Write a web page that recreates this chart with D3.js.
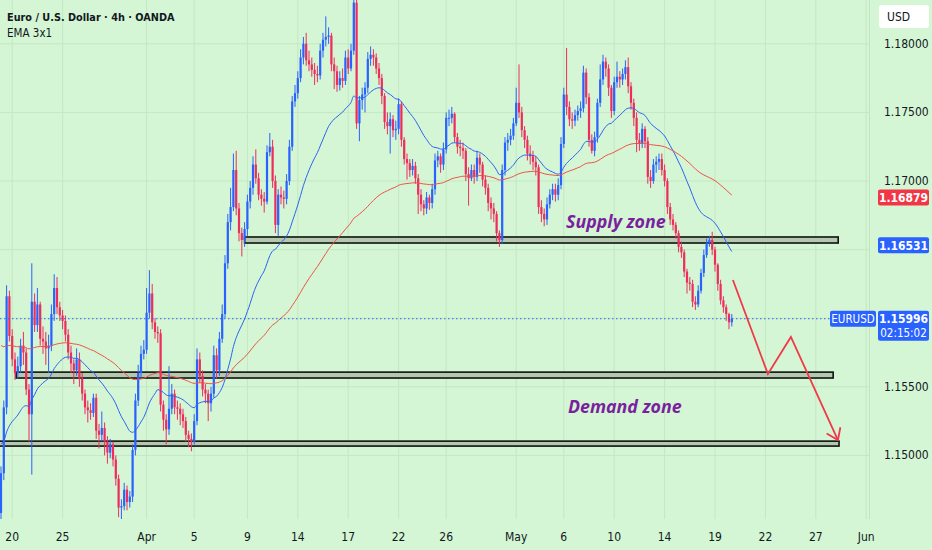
<!DOCTYPE html>
<html><head><meta charset="utf-8">
<script src="https://cdn.jsdelivr.net/npm/d3@7"></script>
<style>
html,body{margin:0;padding:0;background:#d4f6d4;}
svg{display:block;}
text{font-family:"Liberation Sans Narrow","DejaVu Sans Condensed","Liberation Sans",sans-serif;}
</style></head><body>
<svg id="chart" width="932" height="550"></svg>
<script>
// ---------------- DATA ----------------
const firstOpen = 1.1458;
const closes = [
1.1487,1.1535,1.1616,1.1587,1.1570,1.1560,1.1565,1.1580,1.1575,1.1548,
1.1530,1.1612,1.1595,1.1610,1.1585,1.1583,1.1578,1.1580,1.1603,1.1622,
1.1608,1.1602,1.1598,1.1588,1.1575,1.1567,1.1562,1.1570,1.1556,1.1545,
1.1535,1.1533,1.1531,1.1542,1.1518,1.1515,1.1520,1.1510,1.1502,1.1508,
1.1497,1.1483,1.1462,1.1463,1.1475,1.1466,1.1470,1.1504,1.1540,1.1560,
1.1574,1.1577,1.1604,1.1618,1.1597,1.1590,1.1589,1.1537,1.1526,1.1519,
1.1534,1.1545,1.1535,1.1534,1.1530,1.1525,1.1515,1.1512,1.1510,1.1525,
1.1570,1.1558,1.1548,1.1545,1.1538,1.1545,1.1573,1.1562,1.1585,1.1603,
1.1640,1.1670,1.1681,1.1708,1.1680,1.1662,1.1657,1.1665,1.1685,1.1695,
1.1712,1.1702,1.1690,1.1687,1.1685,1.1721,1.1725,1.1700,1.1668,1.1690,
1.1688,1.1687,1.1700,1.1725,1.1758,1.1764,1.1775,1.1790,1.1800,1.1788,
1.1785,1.1781,1.1778,1.1777,1.1795,1.1803,1.1805,1.1806,1.1785,1.1780,
1.1770,1.1775,1.1773,1.1790,1.1782,1.1795,1.1830,1.1742,1.1759,1.1763,
1.1768,1.1789,1.1792,1.1790,1.1782,1.1775,1.1762,1.1743,1.1740,1.1745,
1.1737,1.1738,1.1756,1.1730,1.1716,1.1713,1.1708,1.1711,1.1702,1.1690,
1.1683,1.1680,1.1688,1.1684,1.1694,1.1715,1.1718,1.1712,1.1723,1.1746,
1.1746,1.1749,1.1732,1.1725,1.1724,1.1722,1.1705,1.1702,1.1708,1.1703,
1.1717,1.1712,1.1701,1.1695,1.1684,1.1680,1.1676,1.1662,1.1657,1.1708,
1.1728,1.1730,1.1733,1.1742,1.1757,1.1750,1.1737,1.1730,1.1720,1.1718,
1.1714,1.1710,1.1681,1.1676,1.1672,1.1683,1.1690,1.1694,1.1690,1.1697,
1.1727,1.1763,1.1754,1.1745,1.1744,1.1748,1.1751,1.1753,1.1779,1.1761,
1.1730,1.1722,1.1732,1.1757,1.1774,1.1787,1.1782,1.1768,1.1751,1.1772,
1.1776,1.1774,1.1778,1.1783,1.1769,1.1757,1.1746,1.1730,1.1727,1.1738,
1.1729,1.1703,1.1700,1.1712,1.1714,1.1716,1.1708,1.1700,1.1681,1.1672,
1.1668,1.1662,1.1652,1.1648,1.1634,1.1626,1.1625,1.1612,1.1610,1.1620,
1.1633,1.1646,1.1655,1.1657,1.1650,1.1639,1.1625,1.1613,1.1608,1.1603,
1.1597,1.15996];
const highs = [
1.1492,1.1540,1.1624,1.1620,1.1592,1.1575,1.1572,1.1585,1.1590,1.1578,
1.1552,1.1640,1.1618,1.1622,1.1612,1.1594,1.1590,1.1588,1.1610,1.1632,
1.1630,1.1612,1.1606,1.1602,1.1592,1.1580,1.1570,1.1578,1.1575,1.1560,
1.1548,1.1540,1.1538,1.1545,1.1545,1.1523,1.1532,1.1524,1.1514,1.1512,
1.1510,1.1500,1.1486,1.1468,1.1480,1.1478,1.1474,1.1508,1.1545,1.1566,
1.1580,1.1584,1.1622,1.1635,1.1625,1.1600,1.1594,1.1592,1.1540,1.1530,
1.1565,1.1552,1.1548,1.1540,1.1538,1.1534,1.1528,1.1518,1.1516,1.1530,
1.1578,1.1575,1.1562,1.1552,1.1548,1.1550,1.1580,1.1578,1.1590,1.1610,
1.1646,1.1676,1.1695,1.1720,1.1722,1.1684,1.1666,1.1670,1.1690,1.1700,
1.1718,1.1723,1.1706,1.1694,1.1692,1.1726,1.1735,1.1730,1.1704,1.1694,
1.1696,1.1693,1.1705,1.1730,1.1762,1.1770,1.1780,1.1796,1.1805,1.1808,
1.1795,1.1790,1.1786,1.1784,1.1800,1.1808,1.1820,1.1812,1.1808,1.1790,
1.1784,1.1780,1.1782,1.1795,1.1796,1.1800,1.1840,1.1832,1.1762,1.1768,
1.1772,1.1794,1.1798,1.1796,1.1793,1.1786,1.1778,1.1764,1.1750,1.1750,
1.1748,1.1744,1.1760,1.1758,1.1732,1.1720,1.1716,1.1716,1.1714,1.1705,
1.1694,1.1686,1.1692,1.1690,1.1698,1.1720,1.1722,1.1720,1.1728,1.1750,
1.1752,1.1754,1.1750,1.1735,1.1730,1.1728,1.1724,1.1710,1.1712,1.1712,
1.1722,1.1720,1.1714,1.1704,1.1698,1.1688,1.1684,1.1678,1.1664,1.1712,
1.1732,1.1735,1.1738,1.1746,1.1768,1.1785,1.1754,1.1740,1.1733,1.1726,
1.1722,1.1718,1.1712,1.1686,1.1680,1.1688,1.1694,1.1698,1.1698,1.1702,
1.1732,1.1768,1.1797,1.1758,1.1750,1.1752,1.1755,1.1758,1.1784,1.1782,
1.1764,1.1734,1.1736,1.1760,1.1785,1.1792,1.1790,1.1785,1.1770,1.1776,
1.1787,1.1780,1.1782,1.1788,1.1790,1.1772,1.1760,1.1750,1.1735,1.1742,
1.1740,1.1732,1.1708,1.1716,1.1718,1.1720,1.1720,1.1712,1.1702,1.1684,
1.1676,1.1670,1.1664,1.1656,1.1650,1.1636,1.1630,1.1628,1.1616,1.1624,
1.1636,1.1650,1.1658,1.1660,1.1663,1.1652,1.1640,1.1628,1.1616,1.1610,
1.1604,1.1603];
const lows = [
1.1452,1.1482,1.1530,1.1583,1.1565,1.1555,1.1556,1.1560,1.1566,1.1544,
1.1510,1.1486,1.1590,1.1590,1.1580,1.1574,1.1566,1.1560,1.1576,1.1598,
1.1603,1.1598,1.1592,1.1583,1.1570,1.1560,1.1552,1.1558,1.1550,1.1540,
1.1530,1.1524,1.1526,1.1528,1.1512,1.1505,1.1510,1.1500,1.1494,1.1498,
1.1492,1.1478,1.1455,1.1453,1.1460,1.1460,1.1462,1.1466,1.1500,1.1536,
1.1556,1.1570,1.1574,1.1600,1.1592,1.1585,1.1582,1.1532,1.1518,1.1508,
1.1515,1.1530,1.1530,1.1526,1.1522,1.1520,1.1510,1.1506,1.1503,1.1508,
1.1522,1.1553,1.1543,1.1538,1.1525,1.1532,1.1542,1.1556,1.1558,1.1582,
1.1600,1.1636,1.1664,1.1678,1.1675,1.1656,1.1645,1.1652,1.1660,1.1680,
1.1690,1.1698,1.1686,1.1682,1.1677,1.1683,1.1718,1.1695,1.1662,1.1660,
1.1683,1.1680,1.1683,1.1697,1.1722,1.1754,1.1760,1.1772,1.1785,1.1784,
1.1780,1.1776,1.1770,1.1772,1.1774,1.1790,1.1798,1.1800,1.1780,1.1767,
1.1765,1.1766,1.1768,1.1770,1.1778,1.1780,1.1792,1.1738,1.1729,1.1752,
1.1750,1.1764,1.1784,1.1784,1.1778,1.1770,1.1756,1.1738,1.1734,1.1720,
1.1732,1.1730,1.1734,1.1725,1.1712,1.1701,1.1703,1.1704,1.1698,1.1676,
1.1678,1.1675,1.1676,1.1679,1.1680,1.1690,1.1710,1.1706,1.1708,1.1720,
1.1740,1.1742,1.1728,1.1720,1.1718,1.1716,1.1700,1.1682,1.1700,1.1698,
1.1700,1.1706,1.1696,1.1690,1.1678,1.1672,1.1670,1.1656,1.1652,1.1654,
1.1704,1.1722,1.1726,1.1730,1.1740,1.1746,1.1732,1.1724,1.1715,1.1712,
1.1708,1.1704,1.1676,1.1670,1.1667,1.1668,1.1680,1.1686,1.1685,1.1686,
1.1694,1.1724,1.1748,1.1740,1.1738,1.1740,1.1744,1.1746,1.1750,1.1756,
1.1725,1.1720,1.1718,1.1728,1.1754,1.1770,1.1776,1.1762,1.1746,1.1748,
1.1768,1.1768,1.1770,1.1774,1.1764,1.1752,1.1740,1.1721,1.1722,1.1724,
1.1724,1.1698,1.1695,1.1698,1.1706,1.1708,1.1704,1.1696,1.1676,1.1668,
1.1664,1.1658,1.1648,1.1644,1.1630,1.1618,1.1620,1.1608,1.1606,1.1608,
1.1618,1.1630,1.1644,1.1652,1.1646,1.1634,1.1620,1.1610,1.1604,1.1598,
1.1592,1.1594];

const tickLabels = ["20","25","Apr","5","9","14","17","22","26","May","6","10","14","19","22","27","Jun"];
const tickIndex  = [4,22,52,69,88,106,124,142,159,184,201,219,237,255,273,291,309];
const priceTicks = [1.145,1.15,1.155,1.16,1.165,1.17,1.175,1.18];

const emaPeriods = [30, 100];
const emaSeeds   = [1.1510, 1.1582];

const lastPrice = 1.15996;
const countdown = "02:15:02";
const symbol = "EURUSD";
const slowEmaLabel = "1.16879";
const fastEmaLabel = "1.16531";

const zoneTop    = [1.16592, 1.15607, 1.15104];
const zoneBottom = [1.16548, 1.15564, 1.15068];
const zoneStart  = [87, 5.4, -1];
const zoneEnd    = [299, 297.2, 299.3];

const noteText  = ["Supply zone", "Demand zone"];
const noteIndex = [201.8, 202.5];
const notePrice = [1.16657, 1.15309];

const arrowIndex = [261.4, 273.9, 282.1, 298.9];
const arrowPrice = [1.16278, 1.15593, 1.15863, 1.15112];

const titleText = "Euro / U.S. Dollar · 4h · OANDA";
const subText = "EMA 3x1";

// ---------------- DRAW ----------------
const W = 932, H = 550, plotR = 869, plotB = 519;
const BG = "#d4f6d4", GRID = "#c3e7c3", UP = "#2962ff", DOWN = "#ee2d5c";
const svg = d3.select("#chart");
const x = d3.scaleLinear().domain([0, 310]).range([1, 1 + 2.8 * 310]);
const y = d3.scaleLinear().domain([1.15, 1.18]).range([455.4, 43.8]);

svg.append("rect").attr("width", W).attr("height", H).attr("fill", BG);

svg.append("defs").append("clipPath").attr("id", "plot")
  .append("rect").attr("x", 0).attr("y", 0).attr("width", plotR).attr("height", plotB);

const g = svg.append("g").attr("clip-path", "url(#plot)");

// grid
g.selectAll("line.vg").data(tickIndex).join("line")
  .attr("x1", d => x(d)).attr("x2", d => x(d)).attr("y1", 0).attr("y2", plotB)
  .attr("stroke", GRID).attr("stroke-width", 1);
g.selectAll("line.hg").data(priceTicks).join("line")
  .attr("x1", 0).attr("x2", plotR).attr("y1", d => y(d)).attr("y2", d => y(d))
  .attr("stroke", GRID).attr("stroke-width", 1);

// zones
const zones = zoneTop.map((t, i) => ({t, b: zoneBottom[i], s: zoneStart[i], e: zoneEnd[i]}));
g.selectAll("rect.zone").data(zones).join("rect")
  .attr("x", d => x(d.s)).attr("width", d => x(d.e) - x(d.s))
  .attr("y", d => y(d.t)).attr("height", d => y(d.b) - y(d.t))
  .attr("fill", "#b3c9ae").attr("stroke", "#111").attr("stroke-width", 1.6);

// candles
const candles = closes.map((c, i) => {
  const o = i ? closes[i - 1] : firstOpen;
  return {i, o, c, h: Math.max(highs[i], o, c), l: Math.min(lows[i], o, c)};
});
const cg = g.append("g");
cg.selectAll("line").data(candles).join("line")
  .attr("x1", d => x(d.i)).attr("x2", d => x(d.i))
  .attr("y1", d => y(d.h)).attr("y2", d => y(d.l))
  .attr("stroke", d => d.c >= d.o ? UP : DOWN).attr("stroke-width", 1);
cg.selectAll("rect").data(candles).join("rect")
  .attr("x", d => x(d.i) - 1.1).attr("width", 2.2)
  .attr("y", d => y(Math.max(d.o, d.c)))
  .attr("height", d => Math.max(1, Math.abs(y(d.o) - y(d.c))))
  .attr("fill", d => d.c >= d.o ? UP : DOWN);

// EMAs
function ema(period, seed) {
  const a = 2 / (period + 1); let e = seed;
  return closes.map(c => (e = a * c + (1 - a) * e));
}
const emaColors = ["#2c63f2", "#ef5246"];
emaPeriods.forEach((p, k) => {
  const vals = ema(p, emaSeeds[k]);
  g.append("path").datum(vals)
    .attr("d", d3.line().x((d, i) => x(i)).y(d => y(d)).curve(d3.curveMonotoneX))
    .attr("fill", "none").attr("stroke", emaColors[k]).attr("stroke-width", 1);
});

// last price dotted line
g.append("line").attr("x1", 0).attr("x2", plotR)
  .attr("y1", y(lastPrice)).attr("y2", y(lastPrice))
  .attr("stroke", UP).attr("stroke-width", 1).attr("stroke-dasharray", "1.5,2.5");

// notes
g.selectAll("text.note").data(noteText).join("text")
  .attr("x", (d, i) => x(noteIndex[i])).attr("y", (d, i) => y(notePrice[i]))
  .attr("fill", "#7a1f9e").attr("font-size", 17.8).attr("font-style", "italic")
  .attr("font-weight", "bold")
  .style("font-family", "'Open Sans','Noto Sans',sans-serif")
  .text(d => d);

// arrow
const arrowPts = arrowIndex.map((v, i) => [x(v), y(arrowPrice[i])]);
g.append("path").attr("d", d3.line()(arrowPts))
  .attr("fill", "none").attr("stroke", "#f0394a").attr("stroke-width", 1.8)
  .attr("stroke-linejoin", "miter");
{
  const n = arrowPts.length, tip = arrowPts[n - 1], prev = arrowPts[n - 2];
  const ang = Math.atan2(tip[1] - prev[1], tip[0] - prev[0]);
  const L = 13, spread = 0.62;
  const a1 = [tip[0] - L * Math.cos(ang - spread), tip[1] - L * Math.sin(ang - spread)];
  const a2 = [tip[0] - L * Math.cos(ang + spread), tip[1] - L * Math.sin(ang + spread)];
  g.append("path").attr("d", d3.line()([a1, tip, a2]))
    .attr("fill", "none").attr("stroke", "#f0394a").attr("stroke-width", 1.8);
}

// axis separator
svg.append("line").attr("x1", plotR + 0.5).attr("x2", plotR + 0.5).attr("y1", 0).attr("y2", plotB)
  .attr("stroke", "#c3e3c3");

// price axis labels (ticks hidden behind value boxes are skipped, as on the reference)
const boxPrices = [lastPrice, +slowEmaLabel, +fastEmaLabel];
const visibleTicks = priceTicks.filter(p =>
  y(p) > 30 && y(p) < plotB - 5 && boxPrices.every(b => Math.abs(y(p) - y(b)) > 14));
svg.selectAll("text.py").data(visibleTicks).join("text")
  .attr("x", 884).attr("y", d => y(d) + 4).attr("font-size", 12).attr("fill", "#131722")
  .text(d => d3.format(".5f")(d));

// time axis labels
svg.selectAll("text.tx").data(tickLabels).join("text")
  .attr("x", (d, i) => x(tickIndex[i])).attr("y", 541).attr("text-anchor", "middle")
  .attr("font-size", 12).attr("fill", "#131722").text(d => d);

// USD box
svg.append("rect").attr("x", 879).attr("y", 5).attr("width", 50).attr("height", 23)
  .attr("rx", 3).attr("fill", "#ffffff");
svg.append("text").attr("x", 887).attr("y", 21).attr("font-size", 12).attr("fill", "#131722").text("USD");

// value labels on the price axis
function priceBox(val, color, txt) {
  const yc = y(val);
  svg.append("rect").attr("x", 878).attr("y", yc - 8).attr("width", 51).attr("height", 16)
    .attr("rx", 2).attr("fill", color);
  svg.append("text").attr("x", 903.5).attr("y", yc + 4.5).attr("text-anchor", "middle")
    .attr("font-size", 12).attr("font-weight", "bold").attr("fill", "#fff").text(txt);
}
priceBox(+slowEmaLabel, "#f23645", slowEmaLabel);
priceBox(+fastEmaLabel, "#2962ff", fastEmaLabel);

// last price box
{
  const yc = y(lastPrice);
  svg.append("rect").attr("x", 878).attr("y", yc - 8).attr("width", 51).attr("height", 30)
    .attr("rx", 2).attr("fill", UP);
  svg.append("text").attr("x", 903.5).attr("y", yc + 4.5).attr("text-anchor", "middle")
    .attr("font-size", 12).attr("font-weight", "bold").attr("fill", "#fff").text(d3.format(".5f")(lastPrice));
  svg.append("text").attr("x", 903.5).attr("y", yc + 18).attr("text-anchor", "middle")
    .attr("font-size", 11.5).attr("fill", "#fff").text(countdown);
  svg.append("rect").attr("x", 830).attr("y", yc - 8).attr("width", 46).attr("height", 16)
    .attr("rx", 2).attr("fill", UP);
  svg.append("text").attr("x", 853).attr("y", yc + 4.5).attr("text-anchor", "middle")
    .attr("font-size", 11.5).attr("fill", "#fff").text(symbol);
}

// title
svg.append("text").attr("x", 7).attr("y", 20.5).attr("font-size", 10.8).attr("font-weight", "bold")
  .attr("fill", "#131722").text(titleText);
svg.append("text").attr("x", 7).attr("y", 36.5).attr("font-size", 11.5)
  .attr("fill", "#131722").text(subText);
</script>
</body></html>
